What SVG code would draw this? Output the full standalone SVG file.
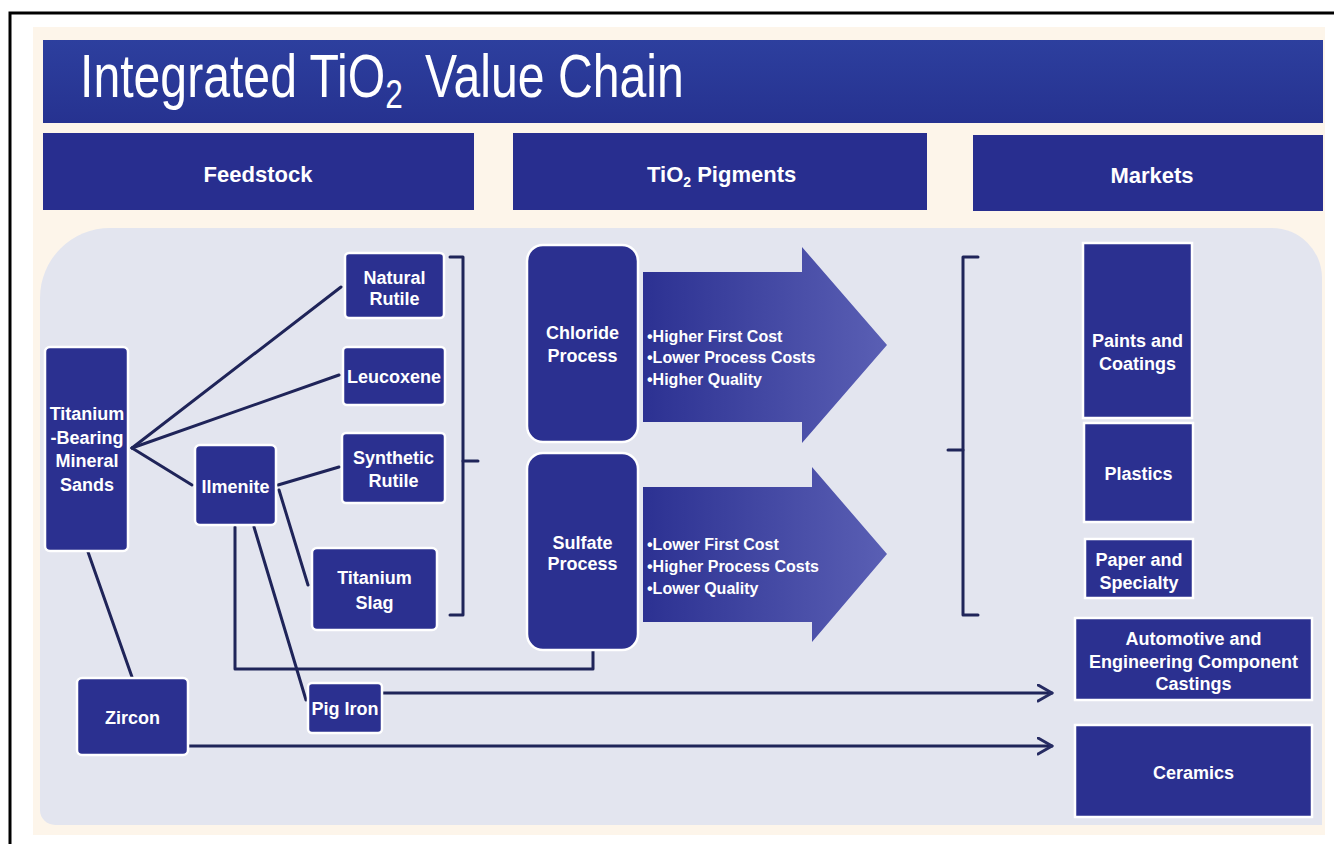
<svg xmlns="http://www.w3.org/2000/svg" width="1334" height="844" viewBox="0 0 1334 844">
<defs>
<linearGradient id="titleGrad" x1="0" y1="0" x2="0" y2="1">
<stop offset="0" stop-color="#2d3f9e"/>
<stop offset="1" stop-color="#263290"/>
</linearGradient>
<linearGradient id="arrowGrad" x1="0" y1="0" x2="1" y2="0">
<stop offset="0" stop-color="#2c3192"/>
<stop offset="1" stop-color="#5a5fb4"/>
</linearGradient>
<marker id="chev" markerUnits="userSpaceOnUse" markerWidth="18" markerHeight="20" refX="15" refY="9" orient="auto">
<path d="M1,1 L15,9 L1,17" fill="none" stroke="#262b62" stroke-width="3" stroke-linejoin="round" stroke-linecap="round"/>
</marker>
</defs>
<style>
.box{fill:#2b3090;stroke:#ffffff;stroke-width:2.5}
.hdr{fill:#282e8f}
.t{font-family:"Liberation Sans",Arial,sans-serif;font-weight:bold;font-size:18px;fill:#ffffff;text-anchor:middle}
.h{font-family:"Liberation Sans",Arial,sans-serif;font-weight:bold;font-size:22px;fill:#ffffff;text-anchor:middle}
.b{font-family:"Liberation Sans",Arial,sans-serif;font-weight:bold;font-size:16px;fill:#ffffff}
.ttl{font-family:"Liberation Sans",Arial,sans-serif;font-size:61px;fill:#ffffff}
.ln{fill:none;stroke:#1f2459;stroke-width:3;stroke-linecap:round;stroke-linejoin:round}
</style>
<rect x="0" y="0" width="1334" height="844" fill="#ffffff"/>
<path d="M10,850 V13 H1340" fill="none" stroke="#000000" stroke-width="3"/>
<rect x="33" y="27" width="1292" height="808" fill="#fdf5ea"/>
<path d="M40,298 A70,70 0 0 1 110,228 H1272 A50,50 0 0 1 1322,278 V825 H55 A15,15 0 0 1 40,810 Z" fill="#e3e5ef"/>

<g id="title">
<rect x="43" y="40" width="1280" height="83" fill="url(#titleGrad)"/>
<text class="ttl" transform="translate(80,97) scale(0.79,1)" x="0" y="0">Integrated TiO<tspan font-size="40" dy="11">2</tspan><tspan dx="11" dy="-11"> Value Chain</tspan></text>
</g>

<g id="hdr-feedstock">
<rect class="hdr" x="43" y="133" width="431" height="77"/>
<text class="h" x="258" y="182">Feedstock</text>
</g>
<g id="hdr-pigments">
<rect class="hdr" x="513" y="133" width="414" height="77"/>
<text class="h" x="647" y="182" style="text-anchor:start">TiO<tspan font-size="14" dy="5">2</tspan><tspan dy="-5"> Pigments</tspan></text>
</g>
<g id="hdr-markets">
<rect class="hdr" x="973" y="135" width="350" height="76"/>
<text class="h" x="1152" y="183">Markets</text>
</g>

<g id="connectors">
<path class="ln" d="M132,448 L341,287"/>
<path class="ln" d="M132,448 L339,375"/>
<path class="ln" d="M132,448 L192,485"/>
<path class="ln" d="M88,552 L132,677"/>
<path class="ln" d="M278,485 L339,467"/>
<path class="ln" d="M279,490 L308,585"/>
<path class="ln" d="M254,527 L306,700"/>
<path class="ln" d="M235,527 V669 H593 V651"/>
<path class="ln" d="M450,257 H463 V615 H450"/>
<path class="ln" d="M463,461 H478"/>
<path class="ln" d="M978,257 H963 V615 H978"/>
<path class="ln" d="M948,450 H963"/>
<path class="ln" d="M382,693 H1052" marker-end="url(#chev)"/>
<path class="ln" d="M188,746 H1052" marker-end="url(#chev)"/>
</g>

<g id="arrow-chloride">
<polygon points="643,272 802,272 802,247 887,345 802,443 802,422 643,422" fill="url(#arrowGrad)"/>
<text class="b" x="647" y="341.5">•Higher First Cost</text>
<text class="b" x="647" y="362.5">•Lower Process Costs</text>
<text class="b" x="647" y="384.5">•Higher Quality</text>
</g>
<g id="arrow-sulfate">
<polygon points="643,487 812,487 812,467 887,554 812,642 812,622 643,622" fill="url(#arrowGrad)"/>
<text class="b" x="647" y="549.5">•Lower First Cost</text>
<text class="b" x="647" y="571.5">•Higher Process Costs</text>
<text class="b" x="647" y="593.5">•Lower Quality</text>
</g>

<g id="n-sands">
<rect class="box" x="45" y="347" width="83" height="204" rx="5"/>
<text class="t" x="87" y="419.5">Titanium</text>
<text class="t" x="87" y="443.5">-Bearing</text>
<text class="t" x="87" y="466.5">Mineral</text>
<text class="t" x="87" y="490.5">Sands</text>
</g>
<g id="n-natural-rutile">
<rect class="box" x="345" y="253" width="99" height="65" rx="4"/>
<text class="t" x="394.5" y="283.5">Natural</text>
<text class="t" x="394.5" y="305">Rutile</text>
</g>
<g id="n-leucoxene">
<rect class="box" x="343" y="347" width="102" height="58" rx="4"/>
<text class="t" x="394" y="382.5">Leucoxene</text>
</g>
<g id="n-synthetic-rutile">
<rect class="box" x="342" y="433" width="103" height="70" rx="4"/>
<text class="t" x="393.5" y="463.5">Synthetic</text>
<text class="t" x="393.5" y="486.5">Rutile</text>
</g>
<g id="n-ilmenite">
<rect class="box" x="195" y="445" width="81" height="80" rx="5"/>
<text class="t" x="235.5" y="492.5">Ilmenite</text>
</g>
<g id="n-titanium-slag">
<rect class="box" x="312" y="548" width="125" height="82" rx="5"/>
<text class="t" x="374.5" y="583.5">Titanium</text>
<text class="t" x="374.5" y="608.5">Slag</text>
</g>
<g id="n-zircon">
<rect class="box" x="77" y="678" width="111" height="77" rx="5"/>
<text class="t" x="132.5" y="723.5">Zircon</text>
</g>
<g id="n-pig-iron">
<rect class="box" x="308" y="683" width="74" height="50" rx="4"/>
<text class="t" x="345" y="714.5">Pig Iron</text>
</g>
<g id="n-chloride">
<rect class="box" x="527" y="245" width="111" height="197" rx="16"/>
<text class="t" x="582.5" y="338.5">Chloride</text>
<text class="t" x="582.5" y="361.5">Process</text>
</g>
<g id="n-sulfate">
<rect class="box" x="527" y="453" width="111" height="197" rx="16"/>
<text class="t" x="582.5" y="548.5">Sulfate</text>
<text class="t" x="582.5" y="569.5">Process</text>
</g>
<g id="n-paints">
<rect class="box" x="1083" y="243" width="109" height="175"/>
<text class="t" x="1137.5" y="346.5">Paints and</text>
<text class="t" x="1137.5" y="369.5">Coatings</text>
</g>
<g id="n-plastics">
<rect class="box" x="1084" y="423" width="109" height="99"/>
<text class="t" x="1138.5" y="479.5">Plastics</text>
</g>
<g id="n-paper">
<rect class="box" x="1085" y="539" width="108" height="59"/>
<text class="t" x="1139" y="565.5">Paper and</text>
<text class="t" x="1139" y="588.5">Specialty</text>
</g>
<g id="n-automotive">
<rect class="box" x="1075" y="618" width="237" height="82"/>
<text class="t" x="1193.5" y="644.5">Automotive and</text>
<text class="t" x="1193.5" y="667.5">Engineering Component</text>
<text class="t" x="1193.5" y="689.5">Castings</text>
</g>
<g id="n-ceramics">
<rect class="box" x="1075" y="725" width="237" height="92"/>
<text class="t" x="1193.5" y="778.5">Ceramics</text>
</g>
</svg>
